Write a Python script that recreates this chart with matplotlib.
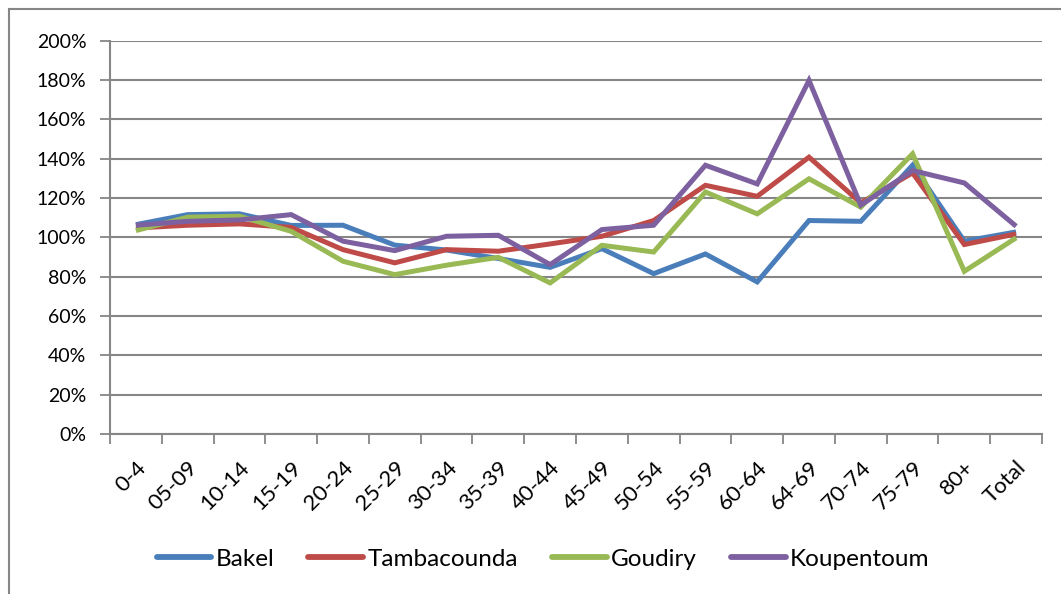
import matplotlib
matplotlib.use('Agg')
import matplotlib.pyplot as plt
from matplotlib.lines import Line2D
from matplotlib.ticker import FuncFormatter, FixedLocator

# age groups and ratios (%)
groups = ['0-4', '05-09', '10-14', '15-19', '20-24', '25-29', '30-34', '35-39', '40-44',
          '45-49', '50-54', '55-59', '60-64', '64-69', '70-74', '75-79', '80+', 'Total']
bakel = [106.4, 111.5, 111.9, 106.0, 106.1, 96.0, 93.5, 89.2, 84.7,
         94.2, 81.5, 91.5, 77.3, 108.5, 108.1, 136.6, 98.0, 102.7]
tambacounda = [104.7, 106.1, 106.8, 105.0, 93.7, 87.0, 93.7, 92.9, 96.6,
               100.5, 108.5, 126.4, 120.8, 140.7, 117.5, 132.7, 96.3, 101.7]
goudiry = [103.4, 110.2, 110.7, 103.0, 87.8, 81.0, 85.8, 89.8, 76.8,
           95.9, 92.5, 123.0, 111.9, 129.7, 115.3, 142.4, 82.7, 99.7]
koupentoum = [106.1, 108.1, 108.8, 111.5, 98.0, 93.2, 100.5, 101.0, 86.1,
              103.9, 106.1, 136.6, 127.1, 179.7, 116.3, 133.9, 127.6, 105.6]

names = ['Bakel', 'Tambacounda', 'Goudiry', 'Koupentoum']
colors = ['#4A7EBB', '#BE4B48', '#98B954', '#7D60A0']

plt.rcParams['font.family'] = ['Lato', 'DejaVu Sans']

W, H = 1061, 594
fig = plt.figure(figsize=(W / 100, H / 100), dpi=100)
ax = fig.add_axes([110 / W, 1 - 434 / H, (1042 - 110) / W, (434 - 40.5) / H])

x = list(range(len(groups)))
for vals, name, c in zip([bakel, tambacounda, goudiry, koupentoum], names, colors):
    ax.plot(x, vals, color=c, lw=3.6, label=name, solid_joinstyle='miter', solid_capstyle='butt')

grey = '#868686'
ax.set_xlim(-0.5, len(groups) - 0.5)
ax.set_ylim(0, 200)
ax.set_yticks(range(0, 201, 20))
ax.yaxis.set_major_formatter(FuncFormatter(lambda v, p: '%d%%' % v))
ax.grid(axis='y', color=grey, lw=1.5)
ax.set_axisbelow(True)

ax.set_xticks(x)
ax.set_xticklabels(groups, rotation=45, ha='right', va='top', rotation_mode='anchor')
ax.xaxis.set_minor_locator(FixedLocator([i - 0.5 for i in range(len(groups) + 1)]))
ax.tick_params(axis='x', which='major', length=0, pad=17, labelsize=16)
ax.tick_params(axis='x', which='minor', length=7, width=1.3, color=grey)
ax.tick_params(axis='y', length=7, width=1.3, color=grey, labelsize=14, pad=10)

for s in ['top', 'right']:
    ax.spines[s].set_visible(False)
for s in ['left', 'bottom']:
    ax.spines[s].set_color(grey)
    ax.spines[s].set_linewidth(1.5)

handles = [Line2D([], [], color=c, lw=4.2, solid_capstyle='round') for c in colors]
fig.legend(handles, names, loc='center', bbox_to_anchor=(543 / W, 1 - 559 / H), ncol=4,
           frameon=False, fontsize=17.5, handlelength=2.25, handletextpad=0.18, columnspacing=1.4)

# outer chart frame (cut at right and bottom)
fig.add_artist(Line2D([8.5 / W, 8.5 / W], [0, 1 - 9 / H], transform=fig.transFigure, color=grey, lw=1.5))
fig.add_artist(Line2D([8.5 / W, 1], [1 - 9 / H, 1 - 9 / H], transform=fig.transFigure, color=grey, lw=1.5))

fig.savefig('out.png', dpi=100, facecolor='white')
